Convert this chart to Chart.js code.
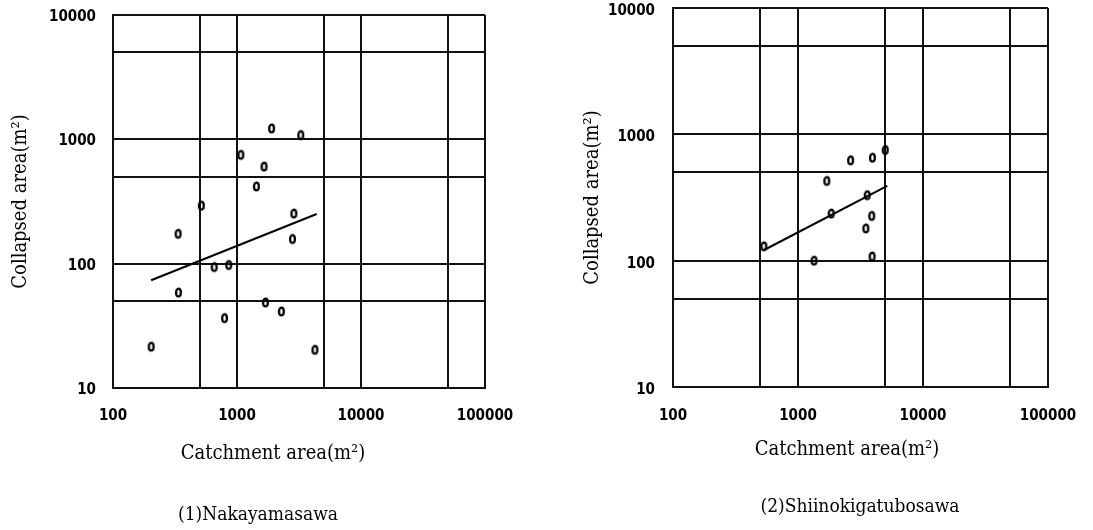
<!DOCTYPE html>
<html>
<head>
<meta charset="utf-8">
<script src="https://cdn.jsdelivr.net/npm/chart.js@4.4.0/dist/chart.umd.min.js"></script>
<style>
  html, body { margin:0; padding:0; background:#fff; }
  #wrap { position:relative; width:1093px; height:530px; overflow:hidden; background:#fff; }
  canvas { position:absolute; top:0; }
  .lbl { position:absolute; transform:translate(-50%,-50%); white-space:nowrap;
         font-family:"DejaVu Serif Condensed","DejaVu Serif",serif; font-size:20px; line-height:1; color:#000; }
</style>
</head>
<body>
<div id="wrap">
  <canvas id="c1" width="546" height="530" style="left:0;width:546px;height:530px"></canvas>
  <canvas id="c2" width="547" height="530" style="left:546px;width:547px;height:530px"></canvas>
  <div class="lbl" style="left:273px;top:452px">Catchment area(m²)</div>
  <div class="lbl" style="left:258px;top:513px;font-size:19px">(1)Nakayamasawa</div>
  <div class="lbl" style="left:847px;top:448px">Catchment area(m²)</div>
  <div class="lbl" style="left:860px;top:505px;font-size:19px">(2)Shiinokigatubosawa</div>
</div>
<script>
// ---- data ----
const xTicks = [100, 500, 1000, 5000, 10000, 50000, 100000];
const yTicks = [10, 50, 100, 500, 1000, 5000, 10000];
const xLabels = [100, 1000, 10000, 100000];
const yLabels = [10, 100, 1000, 10000];

const nakaCatchment = [203, 335, 337, 516, 654, 793, 857, 1074, 1433, 1652, 1694, 1902, 2279, 2801, 2872, 3267, 4250];
const nakaCollapsed = [21.5, 174, 58.6, 293, 94, 36.5, 97.6, 750, 418, 604, 48.8, 1225, 41.3, 158, 253, 1083, 20.3];
const nakaFitX = [203, 4390];
const nakaFitY = [73.6, 251];

const shiiCatchment = [533, 1343, 1700, 1845, 2636, 3490, 3580, 3890, 3937, 3915, 4985];
const shiiCollapsed = [130, 100, 428, 236, 623, 180, 330, 226, 654, 108, 752];
const shiiFitX = [540, 5180];
const shiiFitY = [122, 391];

// ---- marker glyph ("0") ----
function makeMarker() {
  const c = document.createElement('canvas');
  c.width = 9; c.height = 13;
  const g = c.getContext('2d');
  g.strokeStyle = '#000';
  g.lineWidth = 2.3;
  g.beginPath();
  g.ellipse(4.5, 6.5, 2.4, 3.9, 0, 0, Math.PI * 2);
  g.stroke();
  return c;
}
const marker = makeMarker();

const tickFont = { family: '"DejaVu Sans Condensed","DejaVu Sans",sans-serif', size: 15, weight: 'bold', lineHeight: 1.2 };
const titleFont = { family: '"DejaVu Serif Condensed","DejaVu Serif",serif', size: 20, weight: 'normal', lineHeight: 1.2 };

function pts(xs, ys) { return xs.map((x, i) => ({ x: x, y: ys[i] })); }

function makeChart(id, cfg) {
  return new Chart(document.getElementById(id), {
    type: 'scatter',
    data: {
      datasets: [
        { data: pts(cfg.px, cfg.py), pointStyle: marker, pointRadius: 5, showLine: false },
        { data: pts(cfg.fx, cfg.fy), showLine: true, borderColor: '#000', borderWidth: 2, pointRadius: 0, fill: false }
      ]
    },
    options: {
      responsive: false,
      animation: false,
      events: [],
      layout: { padding: { left: 0, right: cfg.padRight, top: cfg.padTop, bottom: cfg.padBottom } },
      plugins: { legend: { display: false }, tooltip: { enabled: false }, title: { display: false } },
      scales: {
        x: {
          type: 'logarithmic', min: 100, max: 100000,
          afterBuildTicks: s => { s.ticks = xTicks.map(v => ({ value: v })); },
          afterFit: s => { s.height = 40; s.paddingLeft = 0; s.paddingRight = 0; },
          ticks: {
            autoSkip: false, maxRotation: 0, padding: cfg.xPad, color: '#000', font: tickFont,
            callback: v => xLabels.includes(v) ? String(v) : ''
          },
          grid: { color: '#111', lineWidth: 2, drawTicks: false },
          border: { color: '#111', width: 2 }
        },
        y: {
          type: 'logarithmic', min: 10, max: 10000,
          afterBuildTicks: s => { s.ticks = yTicks.map(v => ({ value: v })); },
          afterFit: s => { s.width = cfg.yWidth; s.paddingTop = 0; s.paddingBottom = 0; },
          ticks: {
            autoSkip: false, padding: cfg.yPad, labelOffset: cfg.yLabelOffset, color: '#000', font: tickFont,
            callback: v => yLabels.includes(v) ? String(v) : ''
          },
          grid: { color: '#111', lineWidth: 2, drawTicks: false },
          border: { color: '#111', width: 2 },
          title: { display: true, text: 'Collapsed area(m²)', color: '#000', font: titleFont,
                   padding: { top: cfg.yTitlePad, bottom: 0 } }
        }
      }
    }
  });
}

makeChart('c1', {
  px: nakaCatchment, py: nakaCollapsed, fx: nakaFitX, fy: nakaFitY,
  padRight: 61, padTop: 15, padBottom: 102, yWidth: 113, yPad: 17, xPad: 19, yTitlePad: 9, yLabelOffset: 2
});
makeChart('c2', {
  px: shiiCatchment, py: shiiCollapsed, fx: shiiFitX, fy: shiiFitY,
  padRight: 45, padTop: 8, padBottom: 103, yWidth: 127, yPad: 18, xPad: 20, yTitlePad: 35, yLabelOffset: 3
});
</script>
</body>
</html>
